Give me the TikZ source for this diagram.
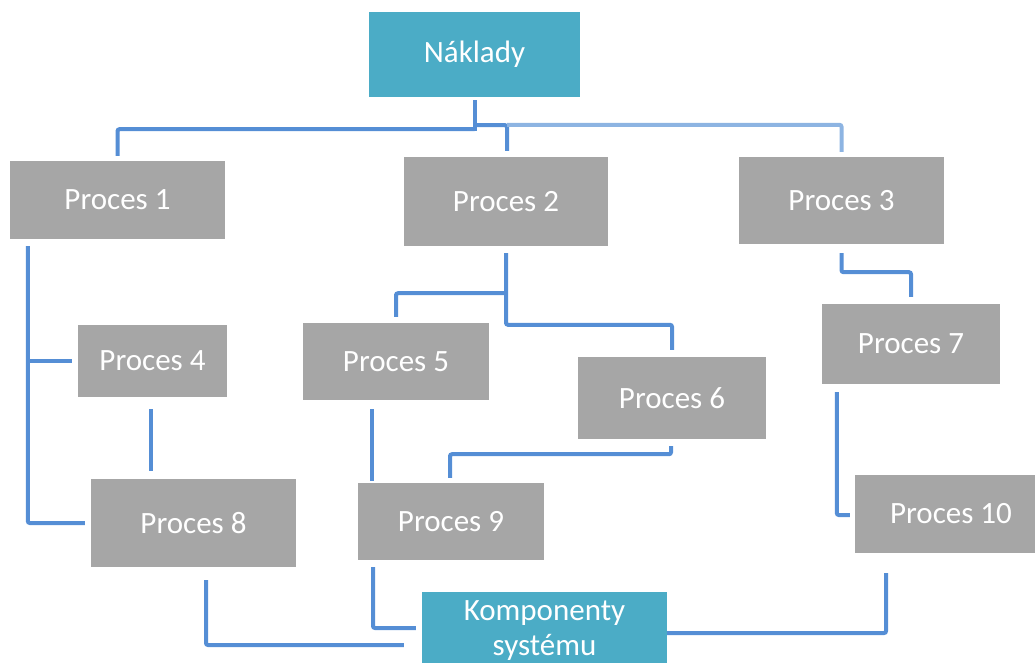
\documentclass[tikz,border=0pt]{standalone}
\usepackage{fontspec}
\setmainfont{Carlito}
\usetikzlibrary{calc}
\definecolor{boxgray}{HTML}{A6A6A6}
\definecolor{headteal}{HTML}{4BACC6}
\definecolor{linkblue}{HTML}{558ED5}
\definecolor{linklight}{HTML}{8DB4E2}
\begin{document}
\begin{tikzpicture}[x=1pt,y=-1pt,
  proc/.style={fill=boxgray, text=white, inner sep=0pt, align=center,
    font=\fontsize{31}{35}\selectfont},
  hub/.style={proc, fill=headteal},
  conn/.style={draw=linkblue, line width=4pt, rounded corners=2pt},
  connlight/.style={conn, draw=linklight}]
\useasboundingbox (0,0) rectangle (1035,662);
\clip (0,0) rectangle (1035,662);

% boxes
\node[hub, minimum width=211pt, minimum height=85pt] (nak) at (474.5,54.5) {Náklady};
\node[proc, minimum width=215pt, minimum height=78pt] (p1) at (117.5,200) {Proces 1};
\node[proc, minimum width=204pt, minimum height=89pt] (p2) at (506,201.5) {Proces 2};
\node[proc, minimum width=205pt, minimum height=87pt] (p3) at (841.5,200.5) {Proces 3};
\node[proc, minimum width=149pt, minimum height=72pt] (p4) at (152.5,361) {Proces 4};
\node[proc, minimum width=186pt, minimum height=77pt] (p5) at (396,361.5) {Proces 5};
\node[proc, minimum width=188pt, minimum height=82pt] (p6) at (672,398) {Proces 6};
\node[proc, minimum width=178pt, minimum height=80pt] (p7) at (911,344) {Proces 7};
\node[proc, minimum width=205pt, minimum height=88pt] (p8) at (193.5,523) {Proces 8};
\node[proc, minimum width=186pt, minimum height=77pt] (p9) at (451,521.5) {Proces 9};
\node[proc, minimum width=192pt, minimum height=78pt] (p10) at (951,514) {Proces 10};
\node[hub, minimum width=245pt, minimum height=78pt] (komp) at (544.5,631) {Komponenty\\systému};

% Náklady to the first level
\draw[conn] ($(nak.south)+(0,3)$) -- ($(nak.south)+(0,34)$);
\draw[conn] ($(nak.south)+(0,32)$) -| ($(p1.north)+(0,-5)$);
\draw[conn] ($(nak.south)+(0,28)$) -| ($(p2.north)+(1,-6)$);
\draw[connlight] ($(p2.north)+(1,-32)$) -| ($(p3.north)+(0,-5)$);

% Proces 1 branch
\draw[conn] ($(p1.south west)+(18,7)$) |- ($(p8.west)+(-6,0)$);
\draw[conn] ($(p4.west)+(-50,0)$) -- ($(p4.west)+(-6,0)$);
\draw[conn] ($(p4.south)+(-2,12)$) -- ($(p8.north)+(-43,-8)$);

% Proces 2 branch
\draw[conn] ($(p2.south)+(0,7)$) |- ($(p6.north)+(0,-32)$) -- ($(p6.north)+(0,-7)$);
\draw[conn] ($(p2.south)+(0,47)$) -| ($(p5.north)+(0,-6)$);
\draw[conn] ($(p5.south)+(-24,9)$) -- ($(p9.north)+(-79,-2)$);
\draw[conn] ($(p6.south)+(-1,7)$) -- ($(p6.south)+(-1,15)$) -| ($(p9.north)+(-1,-5)$);

% Proces 3 branch
\draw[conn] ($(p3.south)+(0,9)$) -- ($(p3.south)+(0,28)$) -| ($(p7.north)+(0,-7)$);
\draw[conn] ($(p7.south west)+(15,8)$) |- ($(p10.west)+(-5,1)$);

% into Komponenty systému
\draw[conn] ($(p8.south)+(12.5,13)$) |- ($(komp.west)+(-18,14)$);
\draw[conn] ($(p9.south)+(-78,7)$) |- ($(komp.west)+(-6,-3)$);
\draw[conn] ($(p10.south)+(-65,20)$) |- ($(komp.east)+(0,2)$);
\end{tikzpicture}
\end{document}
